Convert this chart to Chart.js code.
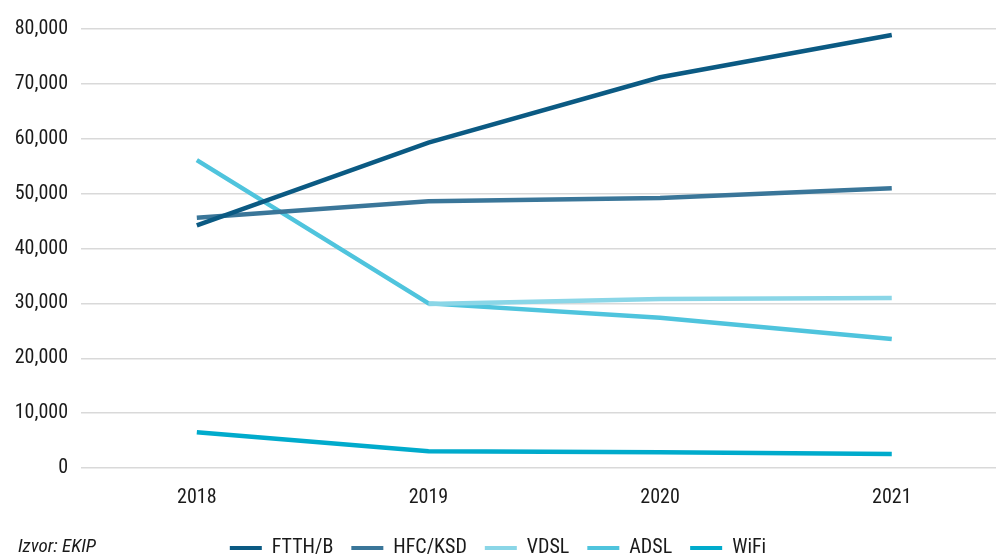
<!DOCTYPE html>
<html lang="hr">
<head>
  <meta charset="UTF-8" />
  <title>Priključci po tehnologiji</title>
  <script src="https://cdn.jsdelivr.net/npm/chart.js"></script>
  <style>
    html, body { margin: 0; padding: 0; background: #fff; }
    #wrap { width: 996px; height: 560px; position: relative; }
  </style>
</head>
<body>
  <div id="wrap"><canvas id="grafikon"></canvas></div>

  <script>
    // podaci očitani s grafikona
    const godine = [2018, 2019, 2020, 2021];
    const ftth = [44200, 59300, 71200, 78900];
    const hfc = [45600, 48600, 49200, 51000];
    const vdsl = [null, 29900, 30800, 31000];
    const adsl = [56100, 30000, 27400, 23500];
    const wifi = [6500, 3050, 2870, 2560];
    const yOznake = [0, 10000, 20000, 30000, 40000, 50000, 60000, 70000, 80000];

    const FONT = "'Roboto Condensed', 'DejaVu Sans Condensed', 'Liberation Sans Narrow', 'DejaVu Sans', sans-serif";
    // "condensed" ide u polje weight da završi u font stringu platna
    const slova = { family: FONT, size: 20, weight: 'condensed' };

    function serija(naziv, vrijednosti, boja) {
      return {
        label: naziv,
        data: godine.map((g, i) => ({ x: g, y: vrijednosti[i] })),
        borderColor: boja,
        backgroundColor: boja,
        borderWidth: 4.5,
        pointRadius: 0,
        tension: 0,
        spanGaps: false
      };
    }

    // tekst izvora dolje lijevo
    const izvorPlugin = {
      id: 'izvor',
      afterDraw(chart) {
        const ctx = chart.ctx;
        ctx.save();
        ctx.font = "italic condensed 19px " + FONT;
        ctx.fillStyle = '#1a1a1a';
        ctx.textBaseline = 'middle';
        ctx.textAlign = 'left';
        ctx.fillText('Izvor: EKIP', 18, 547);
        ctx.restore();
      }
    };

    new Chart(document.getElementById('grafikon'), {
      type: 'line',
      data: {
        datasets: [
          serija('FTTH/B', ftth, '#0b5a83'),
          serija('HFC/KSD', hfc, '#3a7699'),
          serija('VDSL', vdsl, '#8ad6e7'),
          serija('ADSL', adsl, '#4fc4dd'),
          serija('WiFi', wifi, '#00abcc')
        ]
      },
      options: {
        responsive: true,
        maintainAspectRatio: false,
        animation: false,
        layout: { padding: { top: 29, right: 0, bottom: -8, left: 0 } },
        scales: {
          x: {
            type: 'linear',
            min: 2017.5,
            max: 2021.45,
            afterBuildTicks: (s) => { s.ticks = godine.map(g => ({ value: g })); },
            afterFit: (s) => { s.height -= 8; },
            grid: { display: false, drawTicks: false },
            border: { display: false },
            ticks: {
              padding: 18,
              color: '#1a1a1a',
              font: slova,
              callback: (v) => String(v)
            }
          },
          y: {
            min: 0,
            max: 80000,
            afterBuildTicks: (s) => { s.ticks = yOznake.map(v => ({ value: v })); },
            afterFit: (s) => { s.width = 81; },
            grid: { color: '#d9d9d9', lineWidth: 1.5, drawTicks: false },
            border: { display: false },
            ticks: {
              padding: 13,
              color: '#1a1a1a',
              font: slova,
              callback: (v) => v.toLocaleString('en-US')
            }
          }
        },
        plugins: {
          tooltip: { enabled: false },
          legend: {
            position: 'bottom',
            labels: {
              boxWidth: 32,
              boxHeight: 4,
              padding: 18,
              color: '#1a1a1a',
              font: slova,
              generateLabels: (chart) => chart.data.datasets.map((d, i) => ({
                text: d.label,
                fillStyle: d.borderColor,
                strokeStyle: d.borderColor,
                lineWidth: 0,
                fontColor: '#1a1a1a',
                datasetIndex: i
              }))
            }
          }
        }
      },
      plugins: [izvorPlugin]
    });
  </script>
</body>
</html>
